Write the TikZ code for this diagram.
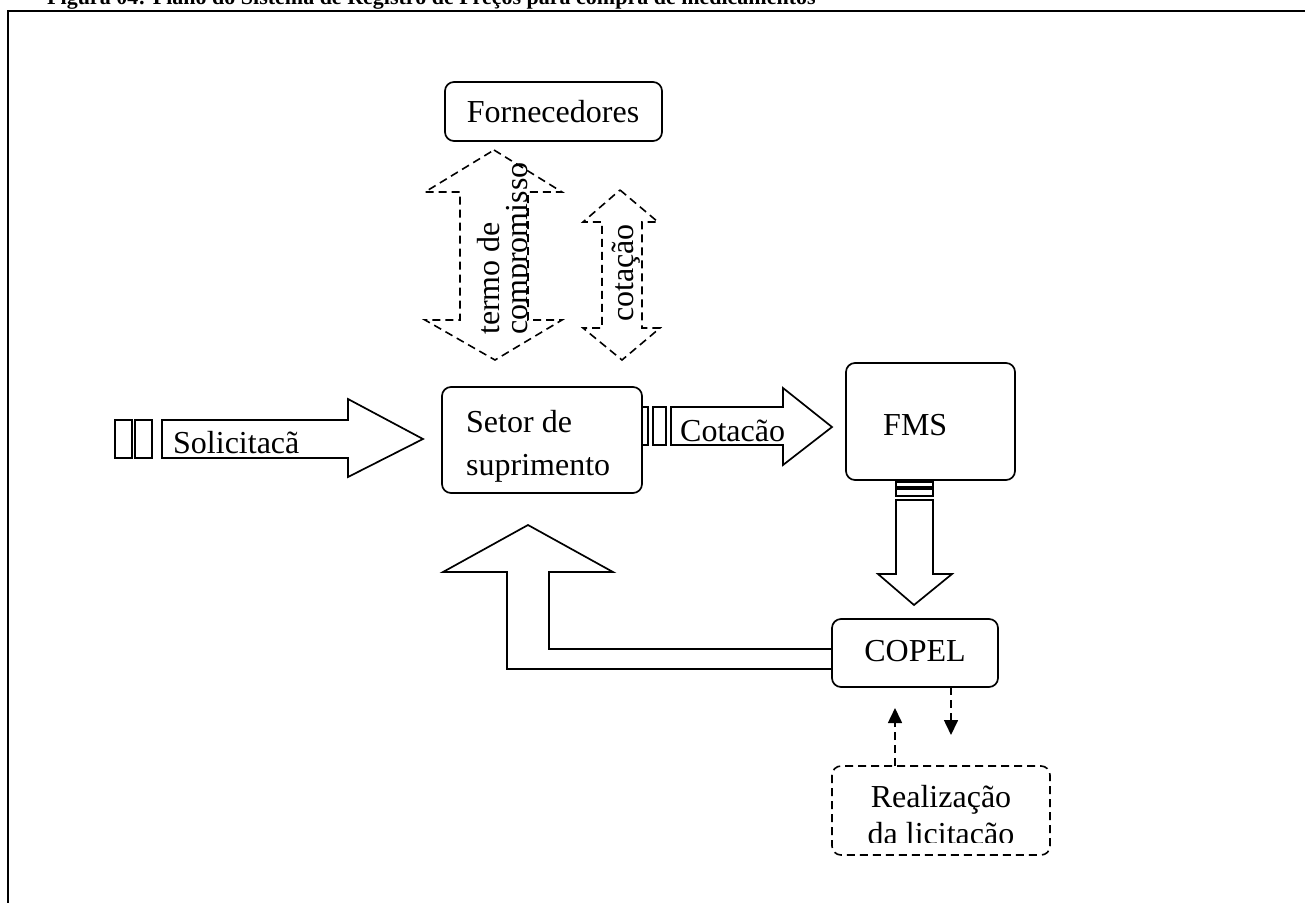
\documentclass[tikz,border=0pt]{standalone}
\usepackage{fontspec}
\setmainfont{Liberation Serif}
\usetikzlibrary{arrows.meta}
\begin{document}
\begin{tikzpicture}[x=1pt,y=-1pt,
  box/.style={draw, line width=1.7pt, rounded corners=9pt, inner sep=0pt},
  blk/.style={draw, line width=1.7pt, fill=white},
  dsh/.style={line width=1.6pt, dash pattern=on 8pt off 5pt},
  lbl/.style={inner sep=0pt, font=\fontsize{32}{37}\selectfont},
  dar/.style={dsh, -{Triangle[length=15pt,width=14pt]}},
]
\useasboundingbox (0,0) rectangle (1305,902);
\clip (0,0) rectangle (1305,902);
% title (cut at the top edge)
\node[inner sep=0pt, anchor=base west, font=\fontsize{22}{26}\selectfont\bfseries] (title) at (47,5) {Figura 04: Plano do Sistema de Registro de Preços para compra de medicamentos};
% frame
\draw[line width=2.8pt] (8,930) -- (8,11) -- (1330,11);

% boxes
\draw[box] (445,82) rectangle (662,141);
\node[lbl, anchor=base] (forn) at (553,122) {Fornecedores};
\draw[box] (442,387) rectangle (642,493);
\node[lbl, anchor=base west] (setor1) at (466,432) {Setor de};
\node[lbl, anchor=base west] (setor2) at (466,475) {suprimento};
\draw[box] (846,363) rectangle (1015,480);
\node[lbl, anchor=base west] (fms) at (883,435) {FMS};
\draw[box] (832,619) rectangle (998,687);
\node[lbl, anchor=base] (copel) at (915,661) {COPEL};
\draw[box, dsh] (832,766) rectangle (1050,855);
\node[lbl, anchor=base] (real1) at (941,807) {Realização};
\begin{scope}
  \clip (832,766) rectangle (1050,842);
  \node[lbl, anchor=base] (real2) at (941,844) {da licitação};
\end{scope}

% dashed double arrows
\draw[dsh] (494,150) -- (562,192) -- (528,192) -- (528,320) -- (562,320) -- (495,360)
  -- (425,320) -- (460,320) -- (460,192) -- (425,192) -- cycle;
\begin{scope}
  \clip (460,150) rectangle (527,360);
  \node[lbl, rotate=90, anchor=base west] (termo1) at (499,335) {termo de};
  \node[lbl, rotate=90, anchor=base west] (termo2) at (527,335) {compromisso};
\end{scope}
\draw[dsh] (620,190) -- (658,222) -- (642,222) -- (642,328) -- (660,328) -- (622,360)
  -- (583,328) -- (602,328) -- (602,222) -- (583,222) -- cycle;
\node[lbl, rotate=90, anchor=base] (cot1) at (633,273) {cotação};

% Solicitação arrow
\draw[blk] (115,420) rectangle (132,458);
\draw[blk] (135,420) rectangle (152,458);
\draw[blk] (162,420) -- (348,420) -- (348,399) -- (423,439) -- (348,477) -- (348,458) -- (162,458) -- cycle;
\node[lbl, anchor=base west] (sol) at (173,453) {Solicitacã};

% Cotação arrow
\draw[blk] (642,407) rectangle (648,445);
\draw[blk] (653,407) rectangle (666,445);
\draw[blk] (671,407) -- (783,407) -- (783,388) -- (832,427) -- (783,465) -- (783,445) -- (671,445) -- cycle;
\node[lbl, anchor=base west] (cot2) at (680,441) {Cotacão};

% FMS -> COPEL arrow
\draw[blk] (896,482) rectangle (933,487);
\draw[blk] (896,489) rectangle (933,496);
\draw[blk] (896,500) -- (896,574) -- (878,574) -- (914,605) -- (952,574) -- (933,574) -- (933,500) -- cycle;

% COPEL -> Setor return arrow
\draw[line width=1.7pt] (832,669) -- (507,669) -- (507,572) -- (443,572) -- (528,525) -- (613,572) -- (549,572) -- (549,649) -- (832,649);

% dashed small arrows
\coordinate (upS) at (895,766);
\coordinate (upE) at (895,708);
\coordinate (dnS) at (951,687);
\coordinate (dnE) at (951,735);
\draw[dar] (upS) -- (upE);
\draw[dar] (dnS) -- (dnE);
\end{tikzpicture}
\end{document}
